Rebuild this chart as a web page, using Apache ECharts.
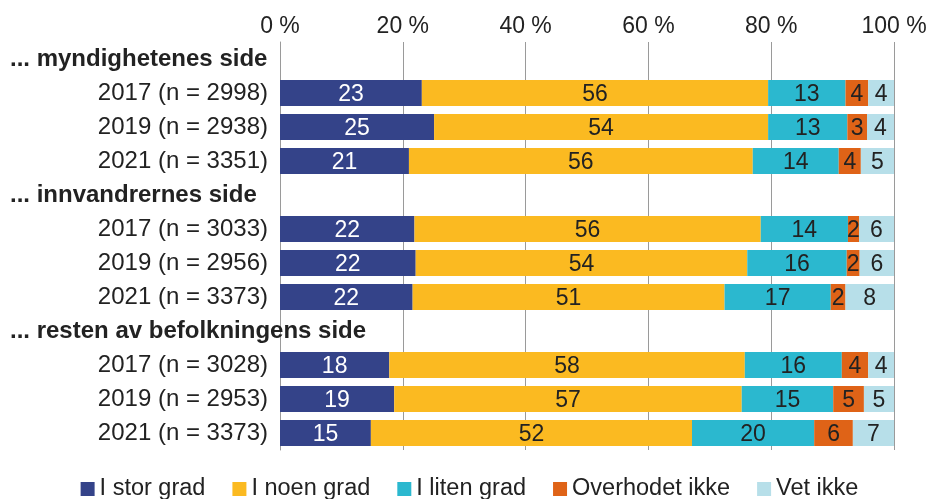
<!DOCTYPE html>
<html>
<head>
<meta charset="utf-8">
<script src="https://cdn.jsdelivr.net/npm/echarts@6/dist/echarts.min.js"></script>
<style>
  html, body { margin: 0; padding: 0; background: #fff; }
  #chart { width: 939px; height: 499px; }
</style>
</head>
<body>
<div id="chart"></div>
<script>
const categories = [
  '... myndighetenes side', '2017 (n = 2998)', '2019 (n = 2938)', '2021 (n = 3351)',
  '... innvandrernes side', '2017 (n = 3033)', '2019 (n = 2956)', '2021 (n = 3373)',
  '... resten av befolkningens side', '2017 (n = 3028)', '2019 (n = 2953)', '2021 (n = 3373)'
]
const headers = ['... myndighetenes side', '... innvandrernes side', '... resten av befolkningens side']

const storGrad = [null, 23.1, 25.1, 21.0, null, 21.9, 22.1, 21.6, null, 17.8, 18.6, 14.8]
const noenGrad = [null, 56.4, 54.4, 56.0, null, 56.4, 54.0, 50.8, null, 57.9, 56.6, 52.3]
const litenGrad = [null, 12.6, 12.9, 14.0, null, 14.2, 16.2, 17.3, null, 15.8, 14.9, 19.9]
const overhodetIkke = [null, 3.7, 3.2, 3.6, null, 1.8, 2.1, 2.4, null, 4.3, 5.0, 6.3]
const vetIkke = [null, 4.2, 4.4, 5.4, null, 5.7, 5.6, 7.9, null, 4.2, 4.9, 6.7]

const xTicks = [0, 20, 40, 60, 80, 100]

const font = 'Liberation Sans, Arial, sans-serif'

const seriesDefs = [
  { name: 'I stor grad', data: storGrad, color: '#344389', text: '#ffffff' },
  { name: 'I noen grad', data: noenGrad, color: '#fbba21', text: '#222222' },
  { name: 'I liten grad', data: litenGrad, color: '#2bb8cf', text: '#222222' },
  { name: 'Overhodet ikke', data: overhodetIkke, color: '#df6317', text: '#222222' },
  { name: 'Vet ikke', data: vetIkke, color: '#b7dfe9', text: '#222222' }
]

const myChart = echarts.init(document.getElementById('chart'))

const option = {
  animation: false,
  grid: { left: 280, right: 45, top: 42, bottom: 49, outerBoundsMode: 'none', containLabel: false },
  legend: {
    bottom: -7,
    left: 'center',
    itemWidth: 14,
    itemHeight: 14,
    itemGap: 27,
    icon: 'rect',
    textStyle: { fontFamily: font, fontSize: 23.5, color: '#222', padding: [4, 0, 0, 0] },
    data: seriesDefs.map(s => s.name)
  },
  xAxis: {
    type: 'value',
    position: 'top',
    min: xTicks[0],
    max: xTicks[xTicks.length - 1],
    interval: 20,
    axisLine: { show: false },
    axisTick: { show: false },
    axisLabel: {
      fontFamily: font, fontSize: 23, color: '#222', margin: 4,
      formatter: v => v + ' %'
    },
    splitLine: { lineStyle: { color: '#9a9a9a', width: 1 } }
  },
  yAxis: [
    {
      type: 'category',
      inverse: true,
      data: categories,
      axisLine: { show: true, lineStyle: { color: '#9a9a9a' } },
      axisTick: { show: false },
      axisLabel: {
        margin: 12,
        fontFamily: font,
        fontSize: 24,
        color: '#222',
        padding: [5, 0, 0, 0],
        formatter: v => headers.includes(v) ? '' : v
      }
    },
    {
      type: 'category',
      inverse: true,
      position: 'left',
      data: categories,
      axisLine: { show: false },
      axisTick: { show: false },
      splitLine: { show: false },
      axisLabel: {
        margin: 270,
        align: 'left',
        fontFamily: font,
        fontSize: 24,
        fontWeight: 'bold',
        color: '#222',
        padding: [6, 0, 0, 0],
        formatter: v => headers.includes(v) ? v : ''
      }
    }
  ],
  series: seriesDefs.map(s => ({
    name: s.name,
    type: 'bar',
    stack: 'total',
    barWidth: 26,
    data: s.data,
    itemStyle: { color: s.color },
    label: {
      show: true,
      position: 'inside',
      offset: [0, 2],
      fontFamily: font,
      fontSize: 23,
      color: s.text,
      formatter: p => (p.value == null ? '' : Math.round(p.value))
    }
  }))
}

if (option && typeof option === 'object') {
  myChart.setOption(option, true)
}
</script>
</body>
</html>
